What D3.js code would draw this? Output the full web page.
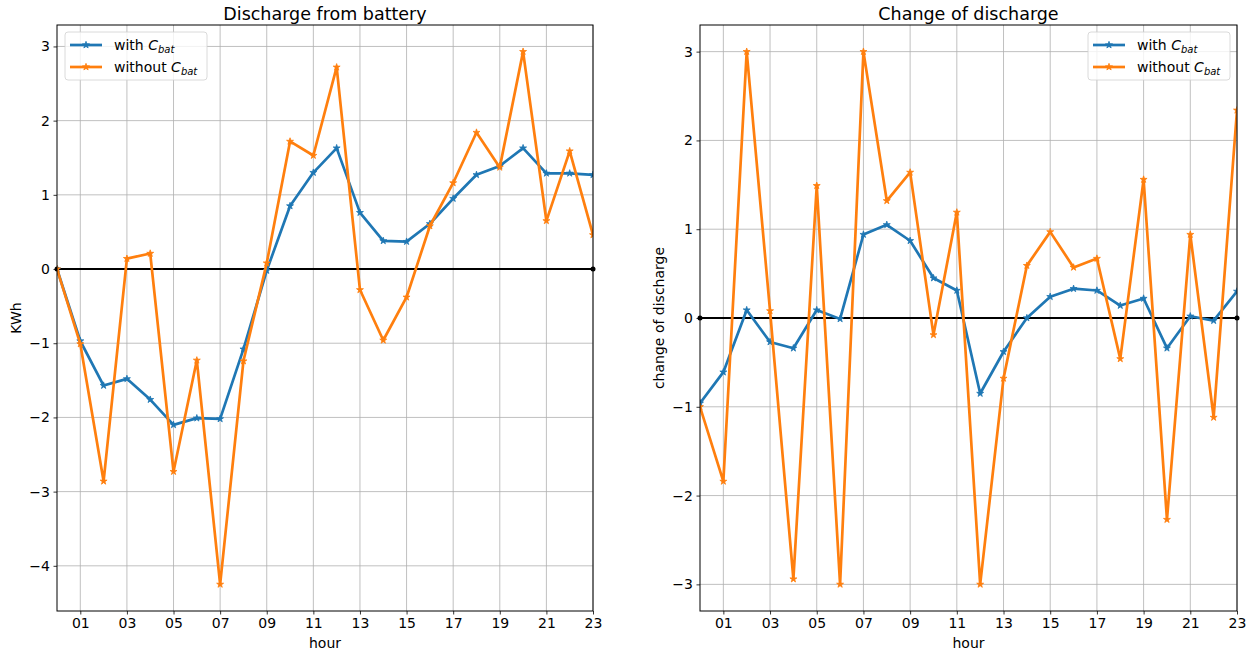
<!DOCTYPE html>
<html>
<head>
<meta charset="utf-8">
<script src="https://cdn.jsdelivr.net/npm/d3@7"></script>
<style>
  body { margin: 0; background: #fff; }
  svg text { font-family: "DejaVu Sans", sans-serif; fill: #000; }
</style>
</head>
<body>
<svg id="chart" width="1257" height="654"></svg>
<script>
// hours 0..23
var hours = d3.range(0, 24)
var tickHours = [1, 3, 5, 7, 9, 11, 13, 15, 17, 19, 21, 23]

// Discharge from battery (KWh)
var dischargeWith = [0, -0.97, -1.57, -1.48, -1.76, -2.10, -2.01, -2.02, -1.08, -0.02,
    0.85, 1.30, 1.63, 0.76, 0.38, 0.37, 0.61, 0.95, 1.27, 1.39, 1.63, 1.29, 1.29, 1.27]
var dischargeWithout = [0, -1.01, -2.86, 0.14, 0.21, -2.73, -1.23, -4.25, -1.24, 0.08,
    1.72, 1.53, 2.72, -0.28, -0.96, -0.38, 0.58, 1.16, 1.84, 1.37, 2.93, 0.65, 1.59, 0.46]

// Change of discharge
var changeWith = [-0.96, -0.61, 0.09, -0.27, -0.34, 0.09, -0.01, 0.94, 1.05, 0.87,
    0.45, 0.31, -0.85, -0.38, 0.0, 0.24, 0.33, 0.31, 0.14, 0.22, -0.34, 0.02, -0.03, 0.30]
var changeWithout = [-1.0, -1.84, 3.0, 0.08, -2.94, 1.49, -3.0, 3.0, 1.32, 1.64,
    -0.19, 1.19, -3.0, -0.68, 0.59, 0.97, 0.57, 0.67, -0.46, 1.56, -2.27, 0.94, -1.12, 2.34]

var blue = '#1f77b4', orange = '#ff7f0e'
var svg = d3.select('#chart')

var star = d3.symbol().type(d3.symbolStar).size(15)

function drawPanel(opts) {
    var left = opts.left, right = opts.right, top = 25, bottom = 611

    var x = d3.scaleLinear().domain([0, 23]).range([left, right])
    var y = d3.scaleLinear().domain(opts.yDomain).range([bottom, top])

    var g = svg.append('g')

    // grid
    g.selectAll('.vgrid').data(tickHours).enter().append('line')
        .attr('x1', x).attr('x2', x).attr('y1', top).attr('y2', bottom)
        .attr('stroke', '#b0b0b0').attr('stroke-width', 0.8)
    g.selectAll('.hgrid').data(opts.yTicks).enter().append('line')
        .attr('x1', left).attr('x2', right)
        .attr('y1', y).attr('y2', y)
        .attr('stroke', '#b0b0b0').attr('stroke-width', 0.8)

    // axes
    var xAxis = d3.axisBottom(x).tickValues(tickHours)
        .tickFormat(function(d) { return d3.format('02d')(d) })
        .tickSizeInner(3.5).tickSizeOuter(0).tickPadding(3.5)
    var yAxis = d3.axisLeft(y).tickValues(opts.yTicks)
        .tickFormat(function(d) { return d < 0 ? '\u2212' + Math.abs(d) : d })
        .tickSizeInner(3.5).tickSizeOuter(0).tickPadding(3.5)

    var gx = g.append('g').attr('transform', 'translate(0,' + bottom + ')').call(xAxis)
    var gy = g.append('g').attr('transform', 'translate(' + left + ',0)').call(yAxis)
    ;[gx, gy].forEach(function(a) {
        a.select('.domain').remove()
        a.selectAll('text').style('font-size', '14px').style('font-family', '"DejaVu Sans", sans-serif')
        a.selectAll('line').attr('stroke', '#000').attr('stroke-width', 0.8)
    })

    // zero line
    g.append('line')
        .attr('x1', x(0)).attr('x2', x(23)).attr('y1', y(0)).attr('y2', y(0))
        .attr('stroke', '#000').attr('stroke-width', 2)
    g.selectAll('.zdot').data([0, 23]).enter().append('circle')
        .attr('cx', x).attr('cy', y(0)).attr('r', 2.5).attr('fill', '#000')

    var line = d3.line().x(function(d, i) { return x(hours[i]) }).y(function(d) { return y(d) })

    var clip = 'clip' + opts.id
    svg.append('clipPath').attr('id', clip).append('rect')
        .attr('x', left).attr('y', top).attr('width', right - left).attr('height', bottom - top)

    var series = [{ v: opts.withData, c: blue }, { v: opts.withoutData, c: orange }]
    series.forEach(function(s) {
        var sg = g.append('g').attr('clip-path', 'url(#' + clip + ')')
        sg.append('path').datum(s.v).attr('d', line)
            .attr('fill', 'none').attr('stroke', s.c).attr('stroke-width', 2.7)
            .attr('stroke-linejoin', 'round')
        sg.selectAll('.pt').data(s.v).enter().append('path')
            .attr('d', star)
            .attr('transform', function(d, i) { return 'translate(' + x(hours[i]) + ',' + y(d) + ')' })
            .attr('fill', s.c).attr('stroke', s.c).attr('stroke-width', 0.8)
    })

    // frame
    g.append('rect').attr('x', left).attr('y', top)
        .attr('width', right - left).attr('height', bottom - top)
        .attr('fill', 'none').attr('stroke', '#000').attr('stroke-width', 1)

    // title and labels
    g.append('text').attr('x', (left + right) / 2).attr('y', 20)
        .attr('text-anchor', 'middle').style('font-size', '17.5px').text(opts.title)
    g.append('text').attr('x', (left + right) / 2).attr('y', 648)
        .attr('text-anchor', 'middle').style('font-size', '14px').text('hour')
    g.append('text')
        .attr('transform', 'translate(' + opts.ylabelX + ',' + (top + bottom) / 2 + ') rotate(-90)')
        .attr('text-anchor', 'middle').style('font-size', '14px').text(opts.ylabel)

    // legend
    var lx = opts.legendX, ly = 32
    var lg = g.append('g').attr('transform', 'translate(' + lx + ',' + ly + ')')
    lg.append('rect').attr('width', 142).attr('height', 48).attr('rx', 3)
        .attr('fill', 'rgba(255,255,255,0.8)').attr('stroke', '#d0d0d0').attr('stroke-width', 0.8)
    var names = ['with ', 'without ']
    series.forEach(function(s, i) {
        var yy = 13 + i * 22
        lg.append('line').attr('x1', 5).attr('x2', 37).attr('y1', yy).attr('y2', yy)
            .attr('stroke', s.c).attr('stroke-width', 2.7)
        lg.append('path').attr('d', star).attr('transform', 'translate(21,' + yy + ')')
            .attr('fill', s.c).attr('stroke', s.c).attr('stroke-width', 0.8)
        var t = lg.append('text').attr('x', 49).attr('y', yy + 5).style('font-size', '14px')
        t.append('tspan').text(names[i])
        t.append('tspan').style('font-style', 'italic').text('C')
        t.append('tspan').style('font-style', 'italic').style('font-size', '10px')
            .attr('dy', 3).text('bat')
    })
}

drawPanel({
    id: 'a', left: 57, right: 593, yDomain: [-4.609, 3.289], yTicks: [-4, -3, -2, -1, 0, 1, 2, 3],
    withData: dischargeWith, withoutData: dischargeWithout,
    title: 'Discharge from battery', ylabel: 'KWh', ylabelX: 21, legendX: 65
})
drawPanel({
    id: 'b', left: 700, right: 1237, yDomain: [-3.3, 3.3], yTicks: [-3, -2, -1, 0, 1, 2, 3],
    withData: changeWith, withoutData: changeWithout,
    title: 'Change of discharge', ylabel: 'change of discharge', ylabelX: 664, legendX: 1088
})
</script>
</body>
</html>
